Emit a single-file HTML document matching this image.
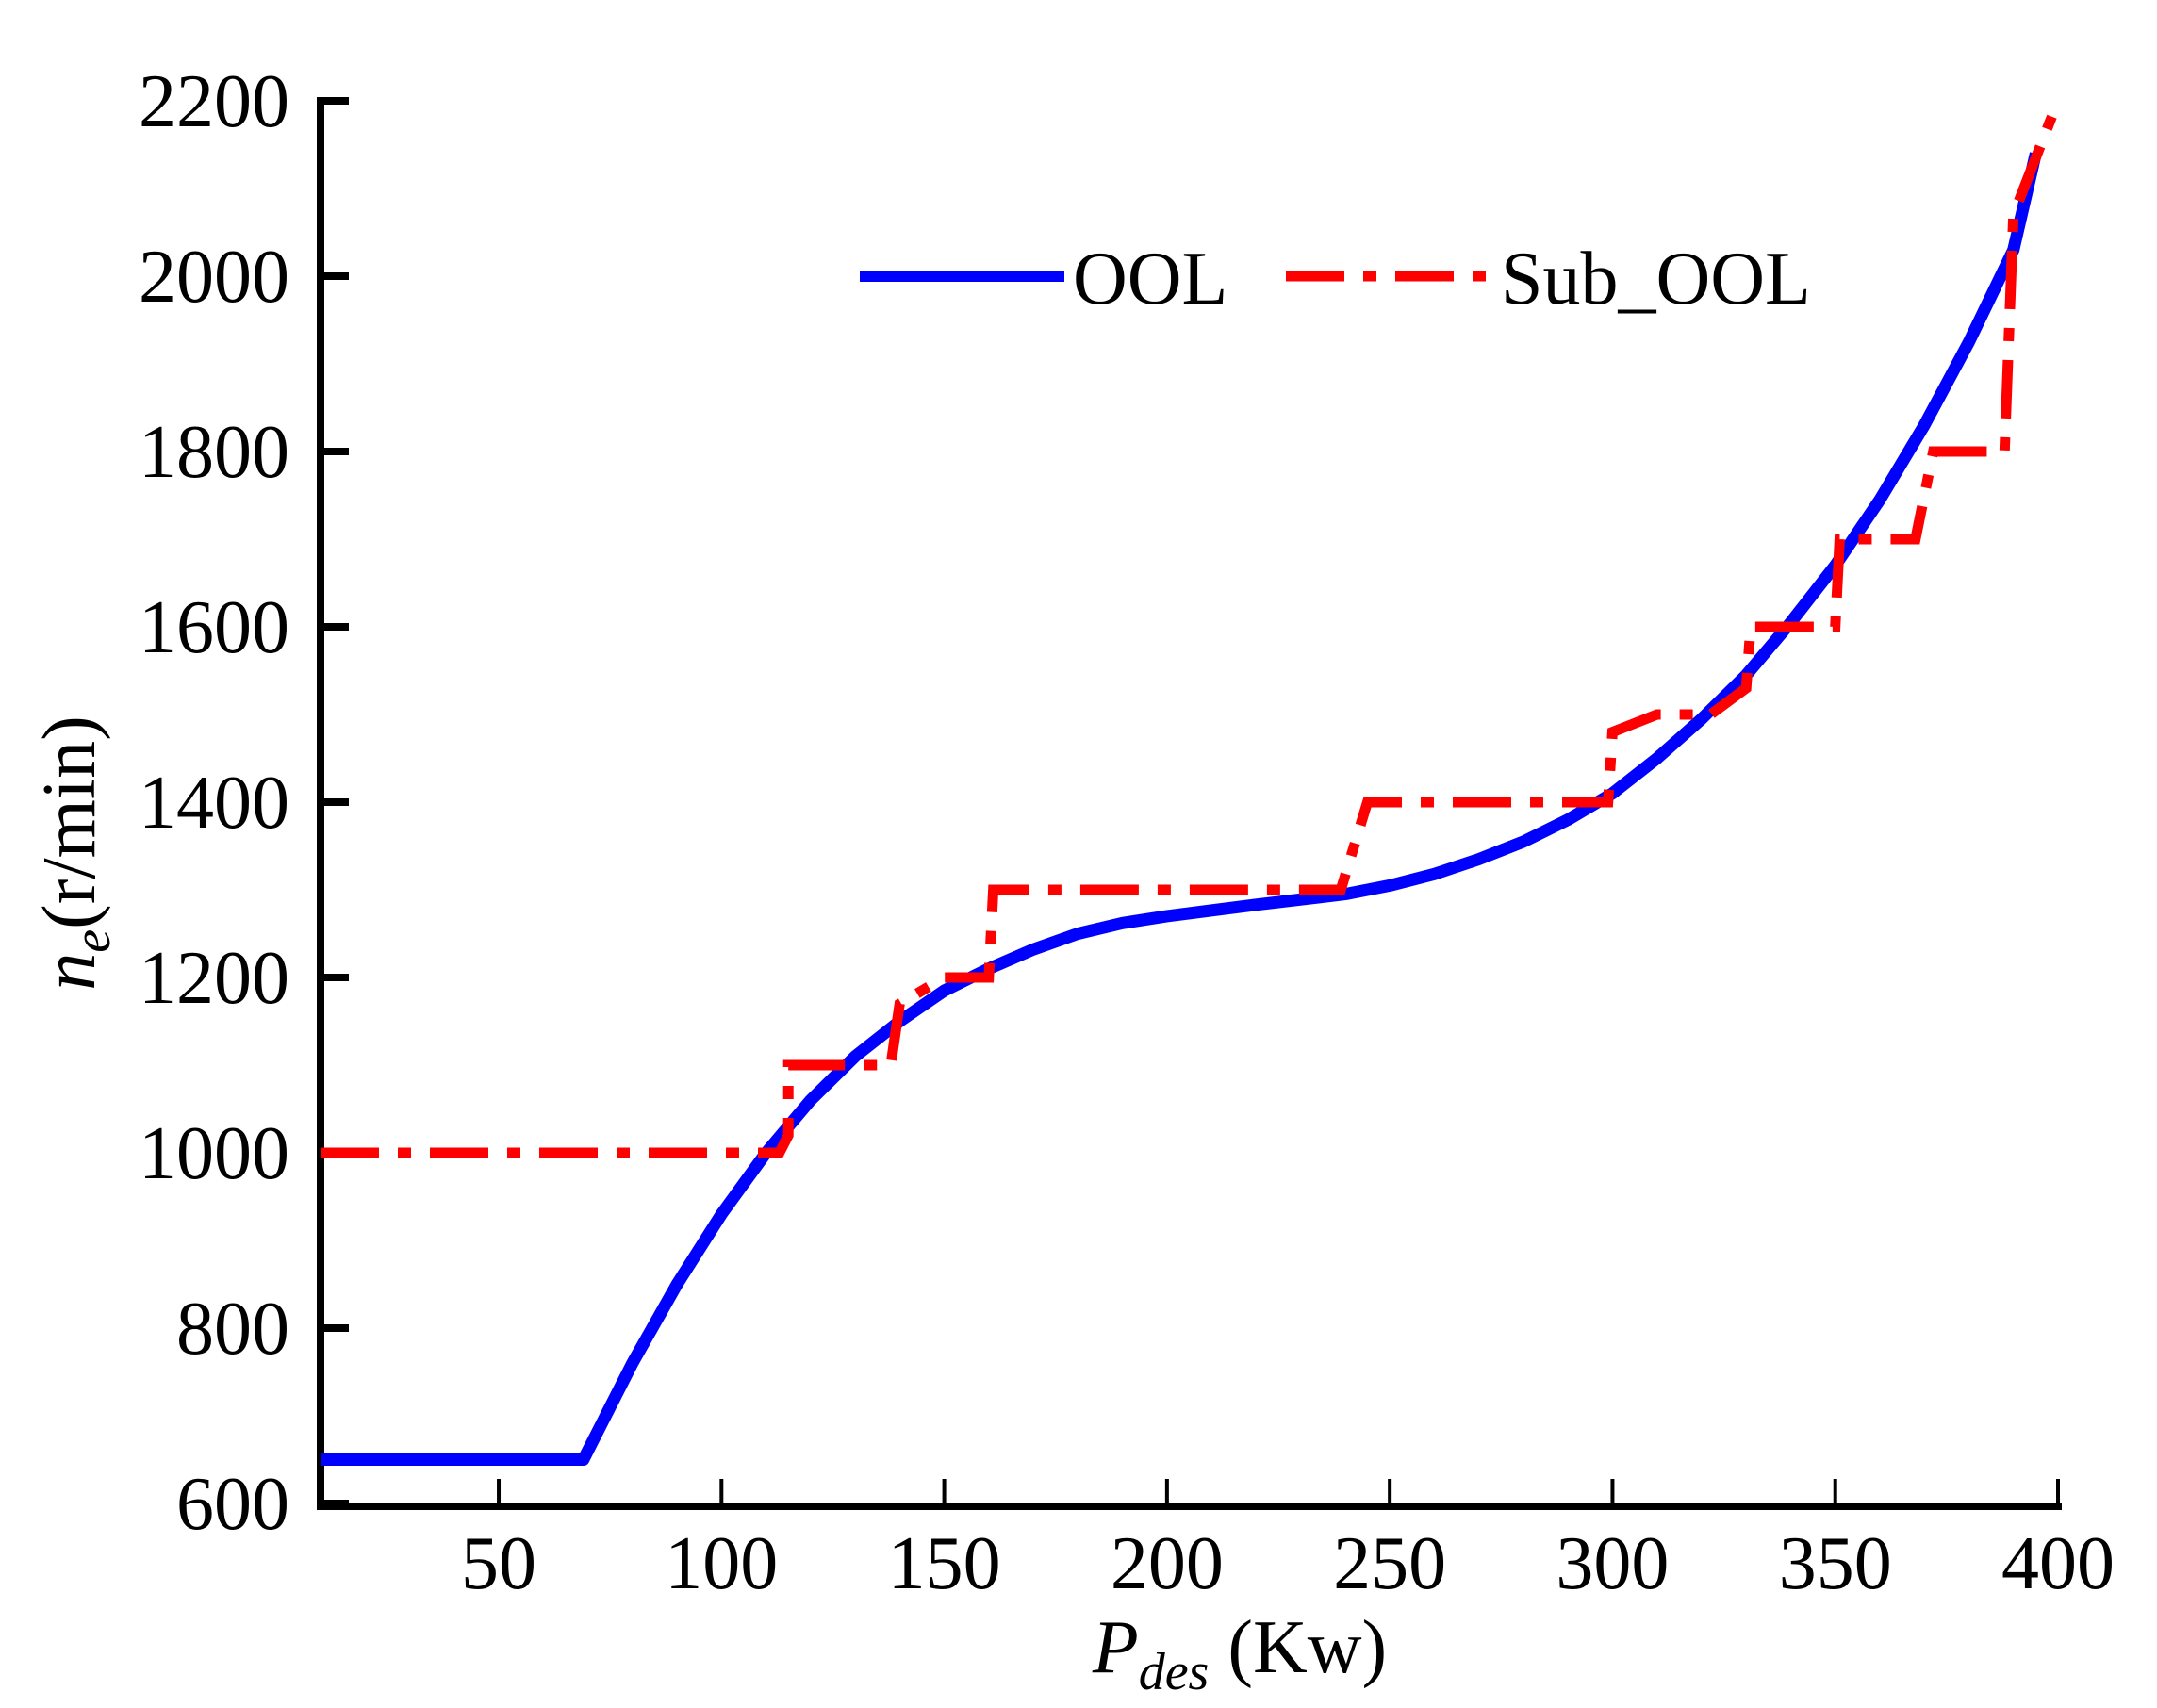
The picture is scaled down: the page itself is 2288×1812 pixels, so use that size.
<!DOCTYPE html>
<html><head><meta charset="utf-8"><style>
html,body{margin:0;padding:0;background:#fff;}
svg{display:block;font-family:"Liberation Serif",serif;}
</style></head><body>
<svg id="chart" width="2288" height="1812" viewBox="0 0 2288 1812">
<g id="axes"></g>
<g id="series"></g>
<g>
<line x1="912" y1="293" x2="1129" y2="293" stroke="#0000ff" stroke-width="12"/>
<text x="1138" y="322" font-size="80">OOL</text>
<line x1="1364" y1="293" x2="1576" y2="293" stroke="#ff0000" stroke-width="11" stroke-dasharray="62 20 14 20"/>
<text x="1592" y="322" font-size="80">Sub_OOL</text>
</g>
<text x="1315" y="1774" font-size="80" text-anchor="middle"><tspan font-style="italic">P</tspan><tspan font-style="italic" font-size="56" dy="18">des</tspan><tspan dy="-18"> (Kw)</tspan></text>
<text transform="translate(100,905) rotate(-90)" font-size="80" text-anchor="middle"><tspan font-style="italic">n</tspan><tspan font-style="italic" font-size="56" dy="16">e</tspan><tspan dy="-16">(r/min)</tspan></text>
</svg>
<script>
const xTicks=[50,100,150,200,250,300,350,400];
const yTicks=[600,800,1000,1200,1400,1600,1800,2000,2200];
const oolX=[10,69,80,90,100,110,120,130,140,150,160,170,180,190,200,220,240,250,260,270,280,290,300,310,320,330,340,350,360,370,380,390,395];
const oolY=[650,650,760,850,930,1000,1060,1110,1150,1185,1210,1232,1250,1262,1270,1283,1295,1305,1318,1335,1355,1380,1410,1450,1495,1545,1605,1670,1745,1830,1925,2030,2140];
const subX=[10,113,115,115,138,140,150,160,161,239,245,299,300,310,322,330,331,350,351,368,372,388,390,400];
const subY=[1000,1000,1020,1100,1100,1170,1200,1200,1300,1300,1400,1400,1480,1500,1500,1530,1600,1600,1700,1700,1800,1800,2070,2200];
const X0=10,X1=400,Y0=600,Y1=2200;
const px0=340,px1=2183,py0=1595,py1=107;
function sx(v){return px0+(v-X0)/(X1-X0)*(px1-px0);}
function sy(v){return py0-(v-Y0)/(Y1-Y0)*(py0-py1);}
const NS='http://www.w3.org/2000/svg';
const axes=document.getElementById('axes');
function mk(tag,attrs,parent){const e=document.createElementNS(NS,tag);for(const k in attrs)e.setAttribute(k,attrs[k]);parent.appendChild(e);return e;}
let l=mk('line',{x1:px0,y1:py1-4,x2:px0,y2:py0+7,stroke:'#000','stroke-width':8},axes);


l=mk('line',{x1:px0-4,y1:py0+3,x2:px1+4,y2:py0+3,stroke:'#000','stroke-width':8},axes);


xTicks.forEach(v=>{
 const t=mk('line',{x1:sx(v),y1:py0,x2:sx(v),y2:py0-26,stroke:'#000','stroke-width':4},axes);
 
 
 const tx=mk('text',{x:sx(v),y:1685,'font-size':80,'text-anchor':'middle'},axes);
 tx.textContent=v;
 
 
});
yTicks.forEach(v=>{
 const t=mk('line',{x1:px0,y1:sy(v),x2:px0+30,y2:sy(v),stroke:'#000','stroke-width':8},axes);
 
 
 const tx=mk('text',{x:307,y:sy(v)+27,'font-size':80,'text-anchor':'end'},axes);
 tx.textContent=v;
 
 
});
const series=document.getElementById('series');
function pts(xs,ys){return xs.map((x,i)=>sx(x).toFixed(1)+','+sy(ys[i]).toFixed(1)).join(' ');}
const ool=mk('polyline',{points:pts(oolX,oolY),fill:'none',stroke:'#0000ff','stroke-width':13,'stroke-linejoin':'round'},series);


const sub=mk('polyline',{points:pts(subX,subY),fill:'none',stroke:'#ff0000','stroke-width':11,'stroke-dasharray':'62 20 14 20'},series);


</script>
</body></html>
